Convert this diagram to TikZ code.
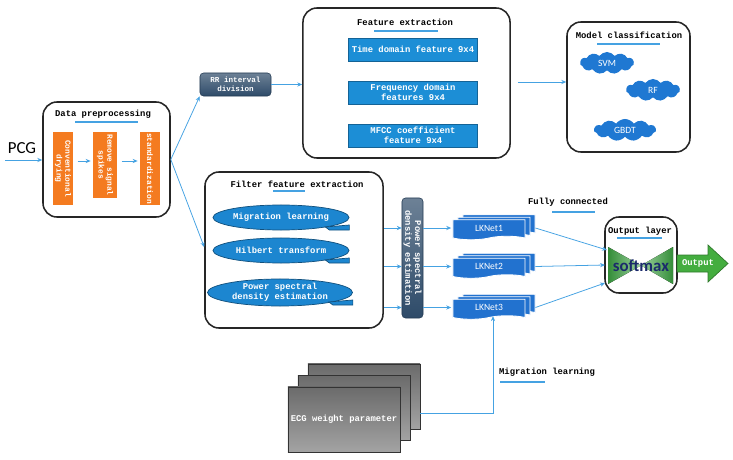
\documentclass[tikz,border=0pt]{standalone}
\usepackage{fontspec}
\setmonofont{Liberation Mono}
\newfontfamily\sanf{Carlito}
\usepackage{xcolor}
\usetikzlibrary{arrows.meta,shapes.geometric,shapes.symbols}
\definecolor{orng}{HTML}{F47B20}
\definecolor{lblue}{HTML}{45A2E2}
\definecolor{fblue}{HTML}{1C8ED6}
\definecolor{eblue}{HTML}{1C86D0}
\definecolor{cblue}{HTML}{1F78D2}
\definecolor{lkb}{HTML}{2272CF}
\definecolor{slt}{HTML}{2E4B69}
\definecolor{bgrn}{HTML}{3DA642}
\definecolor{agrn}{HTML}{44AD3F}
\definecolor{navy}{HTML}{1B2A6B}
\tikzset{
  grp/.style={draw=black!85,line width=1.1pt,rounded corners=10pt,inner sep=0pt},
  ttl/.style={font=\ttfamily\bfseries\fontsize{6.3}{7.2}\selectfont},
  ul/.style={draw=lblue,line width=0.9pt},
  ar/.style={draw=lblue,line width=0.55pt,-{Stealth[length=3.5pt,width=3pt]}},
  orb/.style={fill=orng,rotate=-90,text=white,align=center,inner sep=0pt,font=\ttfamily\bfseries\fontsize{5.6}{6.2}\selectfont},
  bbox/.style={ttl,fill=fblue,draw=fblue!70!black,line width=0.5pt,text=white,align=center,inner sep=0pt,minimum width=3.225cm,minimum height=0.575cm},
  dbox/.style={top color=slt!70!white,bottom color=slt,draw=slt!80!black,rounded corners=2.5pt,text=white,align=center,inner sep=0pt},
  ell/.style={ttl,ellipse,fill=eblue,draw=eblue!60!black,line width=0.5pt,text=white,align=center,inner sep=0pt,minimum width=3.4cm,minimum height=0.625cm},
  tail/.style={fill=eblue,draw=eblue!60!black,line width=0.5pt},
  cld/.style={cloud,cloud puffs=11,cloud puff arc=110,aspect=2.4,fill=cblue,text=white,inner sep=0pt,minimum width=1.35cm,minimum height=0.55cm,font=\sanf\fontsize{6.8}{8}\selectfont},
  lkn/.style={tape,tape bend top=none,tape bend height=2.5pt,fill=lkb,draw=white,line width=0.6pt,text=white,minimum width=1.8cm,minimum height=0.5cm,inner sep=0pt,font=\sanf\fontsize{6.8}{8}\selectfont},
  gst/.style={ttl,top color=black!58,bottom color=black!36,draw=black!80,line width=0.6pt,text=white,minimum width=2.8cm,minimum height=1.625cm,inner sep=0pt}
}

\begin{document}
\begin{tikzpicture}[x=0.025cm,y=-0.025cm]
\useasboundingbox (0,0) rectangle (733,460);
% input
\node[font=\sanf\fontsize{12}{14}\selectfont] (pcg) at (22,148) {PCG};
\coordinate (in) at (5,160);
% data preprocessing
\node[grp,minimum width=3.175cm,minimum height=2.875cm] (prep) at (106.5,159.5) {};
\node[ttl] (prept) at (103,114) {Data preprocessing};
\draw[ul] (75,122) -- (138,122);
\node[orb,minimum width=1.825cm,minimum height=0.5cm] (cd) at (63,168.5) {Conventional\\drying};
\node[orb,minimum width=1.65cm,minimum height=0.6cm] (rs) at (105,165) {Remove signal\\spikes};
\node[orb,minimum width=1.825cm,minimum height=0.5cm] (std) at (150,168.5) {standardization};
\draw[ar] (in) -- (prep.west |- in);
\draw[ar,shorten <=3pt,shorten >=1.5pt] (cd.north |- 0,161) -- (rs.south |- 0,161);
\draw[ar,shorten <=3pt,shorten >=1.5pt] (rs.north |- 0,161) -- (std.south |- 0,161);
% RR interval + feature extraction
\node[dbox,font=\ttfamily\bfseries\fontsize{5.4}{6.2}\selectfont,minimum width=1.775cm,minimum height=0.575cm] (rr) at (235.5,84.5) {RR interval\\division};
\node[grp,minimum width=5.175cm,minimum height=3.75cm] (feat) at (406.5,83) {};
\node[ttl] (featt) at (405,22) {Feature extraction};
\draw[ul] (374,31) -- (438,31);
\node[bbox] (td) at (413,49.5) {Time domain feature 9x4};
\node[bbox] (fd) at (413,92.5) {Frequency domain\\features 9x4};
\node[bbox] (mf) at (413,135.5) {MFCC coefficient\\feature 9x4};
\draw[ar] (prep.east) -- (rr.south west);
\draw[ar] (rr.east) -- (feat.west |- rr.east);
% model classification
\node[grp,minimum width=3.075cm,minimum height=3.25cm] (mc) at (628.5,87) {};
\node[ttl] (mct) at (629,35) {Model classification};
\draw[ul] (597,44) -- (660,44);
\node[cld] (svm) at (607,63) {SVM};
\node[cld] (rf) at (653,90) {RF};
\node[cld,minimum width=1.55cm] (gbdt) at (625,130) {GBDT};
\draw[ar,shorten <=5pt] (feat.east |- 0,82) -- (mc.west |- 0,82);
% filter feature extraction
\node[grp,minimum width=4.45cm,minimum height=3.9cm] (filt) at (294,250) {};
\node[ttl] (filtt) at (297,184) {Filter feature extraction};
\draw[ul] (273,191) -- (305,191);
\node[ell] (ml) at (281,217.5) {Migration learning};
\node[ell] (ht) at (281,250.5) {Hilbert transform};
\node[ell,minimum width=3.625cm,minimum height=0.675cm] (ps) at (280,292.5) {Power spectral\\density estimation};
\foreach \e in {ml,ht,ps}
  \filldraw[tail] ([shift={(-24,9.5)}]\e.east) .. controls ([shift={(-12,8)}]\e.east) .. ([shift={(0,7.5)}]\e.east)
    -- ([shift={(0,12.5)}]\e.east) -- ([shift={(-20,12.5)}]\e.east) -- cycle;
\draw[ar] (prep.east) -- (filt.west |- 0,247);
% psd bar and LKNets
\node[dbox,rotate=-90,font=\ttfamily\bfseries\fontsize{6.3}{6.9}\selectfont,minimum width=3cm,minimum height=0.525cm] (psd) at (412.5,258) {Power spectral\\density estimation};
\foreach \n/\y in {1/228,2/266.5,3/307.5} {
  \foreach \s in {2,1}
    \node[lkn,shift={(5*\s,-2.5*\s)}] (lk\n b\s) at (489,\y) {};
  \node[lkn] (lk\n) at (489,\y) {LKNet\n};
  \draw[ar] (filt.east |- lk\n.west) -- (psd.south |- lk\n.west);
  \draw[ar,shorten >=1pt] (psd.north |- lk\n.west) -- (lk\n.west);
}
% output layer
\node[grp,minimum width=1.8cm,minimum height=1.9cm] (out) at (641,255) {};
\node[ttl] (outt) at (640,231) {Output layer};
\draw[ul] (617,238) -- (662,238);
\fill[left color=bgrn!85!black,right color=bgrn!50!white] (608,247) -- (641,265.5) -- (608,284) -- cycle;
\fill[left color=bgrn!50!white,right color=bgrn!85!black] (673,247) -- (641,265.5) -- (673,284) -- cycle;
\node[font=\sanf\bfseries\fontsize{12}{14}\selectfont,text=navy] (sm) at (641,266) {softmax};
\coordinate (o1) at (607,250);
\coordinate (o2) at (605,265);
\coordinate (o3) at (605,283);
\draw[ar] (lk1.east -| lk1b2.east) -- (o1);
\draw[ar] (lk2.east -| lk2b2.east) -- (o2);
\draw[ar] (lk3.east -| lk3b2.east) -- (o3);
\node[ttl] (fc) at (568,202) {Fully connected};
\draw[ul] (552,212) -- (595,212);
\filldraw[fill=agrn,draw=agrn!70!black,line width=0.5pt] (677,255) -- (708,255) -- (708,245) -- (728,263.5)
  -- (708,282) -- (708,272) -- (677,272) -- cycle;
\node[ttl,text=white] (otx) at (698,263.5) {Output};
% ECG weights
\foreach \s in {2,1}
  \node[gst,shift={(10*\s,-11.5*\s)}] (ecg\s) at (344,419.5) {};
\node[gst] (ecg) at (344,419.5) {ECG weight parameter};
\draw[ar] (ecg2.east |- 0,413) -| ([xshift=0.1cm]lk3.south);
\node[ttl] (mlt) at (547,372) {Migration learning};
\draw[ul] (500,382) -- (545,382);
\end{tikzpicture}
\end{document}
